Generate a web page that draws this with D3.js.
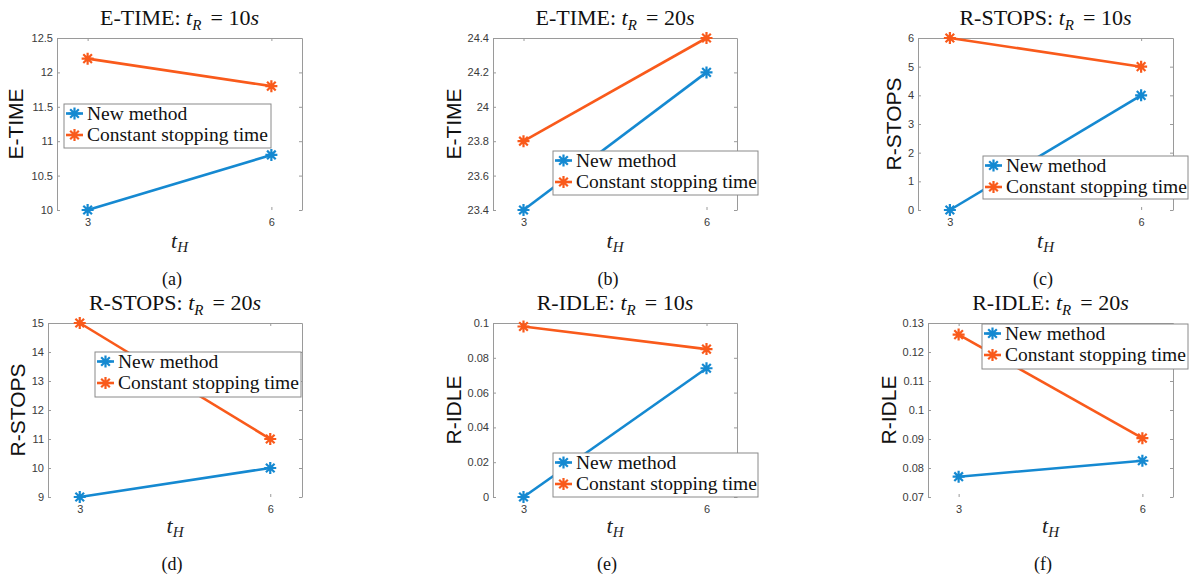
<!DOCTYPE html>
<html>
<head>
<meta charset="utf-8">
<script src="https://cdn.jsdelivr.net/npm/d3@7"></script>
<style>
  body { margin: 0; background: #fff; }
  svg { display: block; }
  .tick text { font-family: "Liberation Sans", Arial, sans-serif; font-size: 11px; fill: #3a3a3a; }
</style>
</head>
<body>
<svg id="chart" width="1193" height="575"></svg>
<script>
// x values shared by every panel
var xValues = [3, 6];
var seriesNames = ['New method', 'Constant stopping time'];
var captions = ['(a)', '(b)', '(c)', '(d)', '(e)', '(f)'];
var metrics = ['E-TIME', 'E-TIME', 'R-STOPS', 'R-STOPS', 'R-IDLE', 'R-IDLE'];
var tR = ['10', '20', '10', '20', '10', '20'];

// series values
var eTime10New = [10, 10.8],     eTime10Const = [12.2, 11.8];
var eTime20New = [23.4, 24.2],   eTime20Const = [23.8, 24.4];
var rStops10New = [0, 4],        rStops10Const = [6, 5];
var rStops20New = [9, 10],       rStops20Const = [15, 11];
var rIdle10New = [0, 0.074],     rIdle10Const = [0.098, 0.085];
var rIdle20New = [0.077, 0.0825], rIdle20Const = [0.126, 0.0903];

// y tick labels
var eTime10Ticks = [10, 10.5, 11, 11.5, 12, 12.5];
var eTime20Ticks = [23.4, 23.6, 23.8, 24, 24.2, 24.4];
var rStops10Ticks = [0, 1, 2, 3, 4, 5, 6];
var rStops20Ticks = [9, 10, 11, 12, 13, 14, 15];
var rIdle10Ticks = [0, 0.02, 0.04, 0.06, 0.08, 0.1];
var rIdle20Ticks = [0.07, 0.08, 0.09, 0.1, 0.11, 0.12, 0.13];

var colors = ['#1589d1', '#f95a1b'];
var axisColor = '#9a9a9a';

// layout of each panel (pixel frames), data pulled from the arrays above
var panels = [
  { l: 57,  r: 302,  t: 38,  b: 210, yl: 23,  cx: 172,  row: 0, ticks: eTime10Ticks, s: [eTime10New, eTime10Const],   leg: [64, 104, 271, 148] },
  { l: 493, r: 737,  t: 38,  b: 210, yl: 461, cx: 608,  row: 0, ticks: eTime20Ticks, s: [eTime20New, eTime20Const],   leg: [553, 151, 758, 195] },
  { l: 918, r: 1173, t: 38,  b: 210, yl: 901, cx: 1043, row: 0, ticks: rStops10Ticks, s: [rStops10New, rStops10Const], leg: [983, 156, 1188, 199] },
  { l: 48,  r: 302,  t: 323, b: 497, yl: 25,  cx: 172,  row: 1, ticks: rStops20Ticks, s: [rStops20New, rStops20Const], leg: [95, 352, 301, 397] },
  { l: 493, r: 737,  t: 323, b: 497, yl: 461, cx: 607,  row: 1, ticks: rIdle10Ticks, s: [rIdle10New, rIdle10Const],   leg: [553, 453, 758, 497] },
  { l: 928, r: 1173, t: 323, b: 497, yl: 896, cx: 1043, row: 1, ticks: rIdle20Ticks, s: [rIdle20New, rIdle20Const],   leg: [982, 324, 1188, 369] }
];

var svg = d3.select('#chart');
var serif = '"Liberation Serif", "Times New Roman", serif';
var sans = '"Liberation Sans", Arial, sans-serif';

function asterisk(r) {
  var d = r * 0.72;
  return 'M' + (-r) + ',0L' + r + ',0M0,' + (-r) + 'L0,' + r +
         'M' + (-d) + ',' + (-d) + 'L' + d + ',' + d +
         'M' + (-d) + ',' + d + 'L' + d + ',' + (-d);
}

panels.forEach(function(p, i) {
  var rowOff = p.row * 285;
  var x = d3.scaleLinear().domain([2.5, 6.5]).range([p.l, p.r]);
  var y = d3.scaleLinear().domain(d3.extent(p.ticks)).range([p.b, p.t]);
  var g = svg.append('g');

  // axes (ticks point inward, no bottom line)
  var left = g.append('g').attr('transform', 'translate(' + p.l + ',0)')
    .call(d3.axisLeft(y).tickValues(p.ticks).tickSize(-3).tickSizeOuter(0).tickPadding(4)
      .tickFormat(function(d) { return String(d); }));
  var right = g.append('g').attr('transform', 'translate(' + p.r + ',0)')
    .call(d3.axisRight(y).tickValues(p.ticks).tickSize(-3).tickSizeOuter(0).tickFormat(''));
  var top = g.append('g').attr('transform', 'translate(0,' + p.t + ')')
    .call(d3.axisTop(x).tickValues(xValues).tickSize(-3).tickSizeOuter(0).tickFormat(''));
  var bottom = g.append('g').attr('transform', 'translate(0,' + p.b + ')')
    .call(d3.axisBottom(x).tickValues(xValues).tickSize(-3).tickSizeOuter(0).tickPadding(8)
      .tickFormat(function(d) { return String(d); }));
  bottom.select('.domain').remove();
  [left, right, top, bottom].forEach(function(a) {
    a.selectAll('.domain, .tick line').attr('stroke', axisColor).attr('stroke-width', 1);
  });

  // series
  p.s.forEach(function(vals, k) {
    var pts = xValues.map(function(xv, j) { return [xv, vals[j]]; });
    g.append('path')
      .attr('d', d3.line().x(function(d) { return x(d[0]); }).y(function(d) { return y(d[1]); })(pts))
      .attr('fill', 'none').attr('stroke', colors[k]).attr('stroke-width', 2.6);
    g.selectAll(null).data(pts).enter().append('path')
      .attr('transform', function(d) { return 'translate(' + x(d[0]) + ',' + y(d[1]) + ')'; })
      .attr('d', asterisk(6))
      .attr('stroke', colors[k]).attr('stroke-width', 2.2).attr('fill', 'none');
  });

  // title
  var title = g.append('text')
    .attr('x', (p.l + p.r) / 2).attr('y', 25 + rowOff)
    .attr('text-anchor', 'middle')
    .style('font-family', serif).style('font-size', '22px').attr('fill', '#111');
  title.append('tspan').text(metrics[i] + ': ');
  title.append('tspan').style('font-style', 'italic').text('t');
  title.append('tspan').style('font-style', 'italic').style('font-size', '15px').attr('dy', 5).text('R');
  title.append('tspan').attr('dy', -5).text('\u2006 = ' + tR[i]);
  title.append('tspan').style('font-style', 'italic').text('s');

  // y label
  g.append('text')
    .attr('transform', 'translate(' + p.yl + ',' + ((p.t + p.b) / 2) + ') rotate(-90)')
    .attr('text-anchor', 'middle')
    .style('font-family', sans).style('font-size', '21px').attr('fill', '#111')
    .text(metrics[i]);

  // x label
  var xl = g.append('text')
    .attr('x', (p.l + p.r) / 2).attr('y', 248 + rowOff)
    .attr('text-anchor', 'middle')
    .style('font-family', serif).style('font-size', '22px').attr('fill', '#222');
  xl.append('tspan').style('font-style', 'italic').text('t');
  xl.append('tspan').style('font-style', 'italic').style('font-size', '15px').attr('dy', 4).text('H');

  // caption
  g.append('text')
    .attr('x', p.cx).attr('y', 285 + rowOff)
    .attr('text-anchor', 'middle')
    .style('font-family', serif).style('font-size', '18px').attr('fill', '#111')
    .text(captions[i]);

  // legend
  var lg = g.append('g');
  lg.append('rect')
    .attr('x', p.leg[0]).attr('y', p.leg[1])
    .attr('width', p.leg[2] - p.leg[0]).attr('height', p.leg[3] - p.leg[1])
    .attr('fill', '#fff').attr('stroke', '#8a8a8a').attr('stroke-width', 1);
  seriesNames.forEach(function(name, k) {
    var cy = p.leg[1] + 9.5 + k * 21.5;
    lg.append('line')
      .attr('x1', p.leg[0] + 2).attr('x2', p.leg[0] + 19)
      .attr('y1', cy).attr('y2', cy)
      .attr('stroke', colors[k]).attr('stroke-width', 2.6);
    lg.append('path')
      .attr('transform', 'translate(' + (p.leg[0] + 10.5) + ',' + cy + ')')
      .attr('d', asterisk(6))
      .attr('stroke', colors[k]).attr('stroke-width', 2.2).attr('fill', 'none');
    lg.append('text')
      .attr('x', p.leg[0] + 23).attr('y', cy + 6)
      .style('font-family', serif).style('font-size', '19.5px').attr('fill', '#111')
      .text(name);
  });
});
</script>
</body>
</html>
